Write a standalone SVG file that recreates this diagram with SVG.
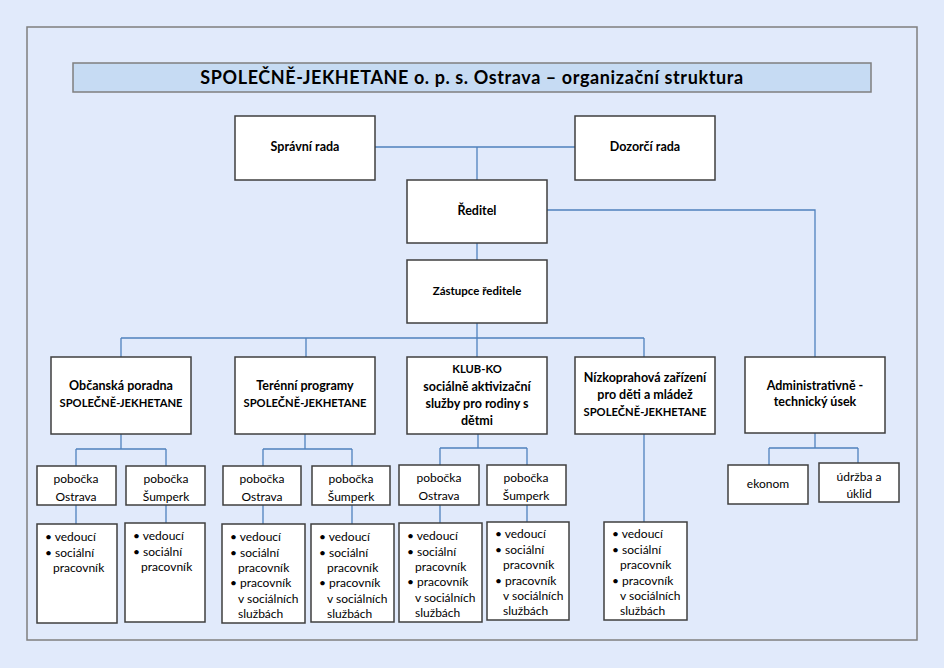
<svg xmlns="http://www.w3.org/2000/svg" width="944" height="668" viewBox="0 0 944 668">
<style>
.bx{fill:#ffffff;stroke:#3f3f3f;stroke-width:1.5}
.cn{fill:none;stroke:#4f81bd;stroke-width:1.3}
text{font-family:Lato,"Liberation Sans",sans-serif;fill:#000}
.b{font-weight:bold;font-size:12.5px;text-anchor:middle}
.c{font-size:11.2px}
.n{font-size:12px;text-anchor:middle}
.l{font-size:12px}
</style>
<rect x="0" y="0" width="944" height="668" fill="#e1eafb"/>
<rect x="27" y="27" width="890" height="613" fill="none" stroke="#7f7f7f" stroke-width="1.5"/>
<g id="title">
<rect x="73" y="63" width="798" height="29" fill="#c6dbf3" stroke="#7f7f7f" stroke-width="1.5"/>
<text x="472" y="83.5" style="font-size:18px;font-weight:bold;text-anchor:middle;letter-spacing:0.6px">SPOLEČNĚ-JEKHETANE o. p. s. Ostrava – organizační struktura</text>
</g>
<g id="connectors">
<path class="cn" d="M375 147H575M477 147V180M547 210H815V357M477 243V260M477 323V357M121 338H644M121 338V357M306 338V357M644 338V357"/>
<path class="cn" d="M121 434V449M76 449H166M76 449V466M166 449V466"/>
<path class="cn" d="M305 434V449M263 449H352M263 449V466M352 449V466"/>
<path class="cn" d="M478 434V448M440 448H527M440 448V465M527 448V465"/>
<path class="cn" d="M815 433V448M769 448H858M769 448V465M858 448V463"/>
<path class="cn" d="M76 505V524M166 505V523M263 505V524M352 505V524M440 505V523M527 505V522M644 434V522"/>
</g>
<g id="spravni"><rect class="bx" x="235" y="116" width="140" height="64"/><text class="b" x="305" y="151">Správní rada</text></g>
<g id="dozorci"><rect class="bx" x="575" y="116" width="140" height="64"/><text class="b" x="645" y="151">Dozorčí rada</text></g>
<g id="reditel"><rect class="bx" x="407" y="180" width="140" height="63"/><text class="b" x="477" y="215">Ředitel</text></g>
<g id="zastupce"><rect class="bx" x="407" y="260" width="140" height="63"/><text class="b" x="477" y="295" style="font-size:11.5px">Zástupce ředitele</text></g>
<g id="obcanska"><rect class="bx" x="51" y="357" width="140" height="77"/><text class="b" x="121" y="390">Občanská poradna</text><text class="b c" x="121" y="407">SPOLEČNĚ-JEKHETANE</text></g>
<g id="terenni"><rect class="bx" x="235" y="357" width="140" height="77"/><text class="b" x="305" y="390">Terénní programy</text><text class="b c" x="305" y="407">SPOLEČNĚ-JEKHETANE</text></g>
<g id="klubko"><rect class="bx" x="407" y="357" width="140" height="77"/><text class="b c" x="477" y="373">KLUB-KO</text><text class="b" x="477" y="391">sociálně aktivizační</text><text class="b" x="477" y="408">služby pro rodiny s</text><text class="b" x="477" y="425">dětmi</text></g>
<g id="nizkoprahova"><rect class="bx" x="575" y="357" width="140" height="77"/><text class="b" x="645" y="382">Nízkoprahová zařízení</text><text class="b" x="645" y="399">pro děti a mládež</text><text class="b c" x="645" y="416">SPOLEČNĚ-JEKHETANE</text></g>
<g id="admin"><rect class="bx" x="745" y="357" width="140" height="76"/><text class="b" x="815" y="390">Administrativně -</text><text class="b" x="815" y="406">technický úsek</text></g>
<g id="op-ostrava"><rect class="bx" x="37" y="466" width="79" height="39"/><text class="n" x="76" y="483">pobočka</text><text class="n" x="76" y="501">Ostrava</text></g>
<g id="op-sumperk"><rect class="bx" x="126" y="466" width="79" height="39"/><text class="n" x="166" y="483">pobočka</text><text class="n" x="166" y="501">Šumperk</text></g>
<g id="tp-ostrava"><rect class="bx" x="223" y="466" width="78" height="39"/><text class="n" x="262" y="483">pobočka</text><text class="n" x="262" y="501">Ostrava</text></g>
<g id="tp-sumperk"><rect class="bx" x="312" y="466" width="78" height="39"/><text class="n" x="351" y="483">pobočka</text><text class="n" x="351" y="501">Šumperk</text></g>
<g id="kk-ostrava"><rect class="bx" x="399" y="465" width="80" height="40"/><text class="n" x="439" y="482">pobočka</text><text class="n" x="439" y="500">Ostrava</text></g>
<g id="kk-sumperk"><rect class="bx" x="487" y="465" width="79" height="40"/><text class="n" x="526" y="482">pobočka</text><text class="n" x="526" y="500">Šumperk</text></g>
<g id="ekonom"><rect class="bx" x="728" y="465" width="80" height="39"/><text class="n" x="768" y="488">ekonom</text></g>
<g id="udrzba"><rect class="bx" x="819" y="463" width="80" height="39"/><text class="n" x="859" y="481">údržba a</text><text class="n" x="859" y="498">úklid</text></g>
<g id="op-ostrava-list"><rect class="bx" x="37" y="524" width="80" height="99"/><text class="l" x="45" y="541">• vedoucí</text><text class="l" x="45" y="557">• sociální</text><text class="l" x="53" y="572">pracovník</text></g>
<g id="op-sumperk-list"><rect class="bx" x="125" y="523" width="80" height="99"/><text class="l" x="133" y="540">• vedoucí</text><text class="l" x="133" y="556">• sociální</text><text class="l" x="141" y="571">pracovník</text></g>
<g id="tp-ostrava-list"><rect class="bx" x="222" y="524" width="83" height="99"/><text class="l" x="230" y="541">• vedoucí</text><text class="l" x="230" y="557">• sociální</text><text class="l" x="238" y="572">pracovník</text><text class="l" x="230" y="587">• pracovník</text><text class="l" x="238" y="603">v sociálních</text><text class="l" x="238" y="618">službách</text></g>
<g id="tp-sumperk-list"><rect class="bx" x="311" y="524" width="83" height="98"/><text class="l" x="319" y="541">• vedoucí</text><text class="l" x="319" y="557">• sociální</text><text class="l" x="327" y="572">pracovník</text><text class="l" x="319" y="587">• pracovník</text><text class="l" x="327" y="603">v sociálních</text><text class="l" x="327" y="618">službách</text></g>
<g id="kk-ostrava-list"><rect class="bx" x="399" y="523" width="83" height="99"/><text class="l" x="407" y="540">• vedoucí</text><text class="l" x="407" y="556">• sociální</text><text class="l" x="415" y="571">pracovník</text><text class="l" x="407" y="586">• pracovník</text><text class="l" x="415" y="602">v sociálních</text><text class="l" x="415" y="617">službách</text></g>
<g id="kk-sumperk-list"><rect class="bx" x="487" y="522" width="82" height="98"/><text class="l" x="495" y="538">• vedoucí</text><text class="l" x="495" y="554">• sociální</text><text class="l" x="503" y="569">pracovník</text><text class="l" x="495" y="585">• pracovník</text><text class="l" x="503" y="600">v sociálních</text><text class="l" x="503" y="615">službách</text></g>
<g id="nz-list"><rect class="bx" x="604" y="522" width="83" height="98"/><text class="l" x="612" y="538">• vedoucí</text><text class="l" x="612" y="554">• sociální</text><text class="l" x="620" y="569">pracovník</text><text class="l" x="612" y="585">• pracovník</text><text class="l" x="620" y="600">v sociálních</text><text class="l" x="620" y="615">službách</text></g>
</svg>
